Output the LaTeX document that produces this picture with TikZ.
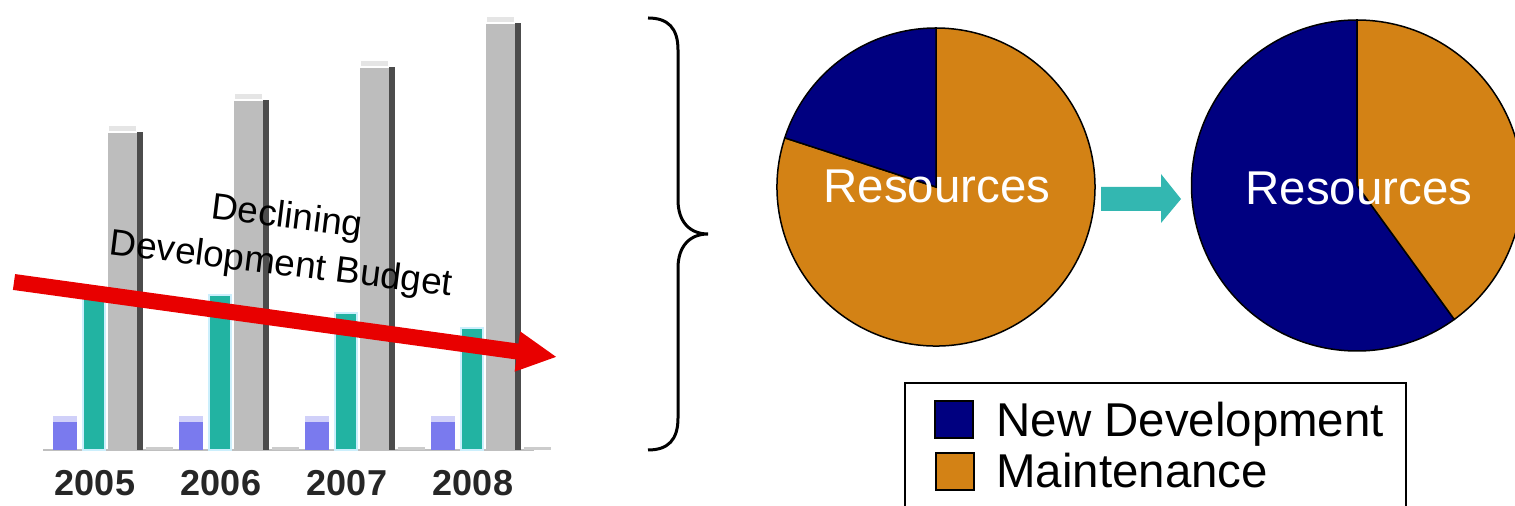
\documentclass[tikz,border=0pt]{standalone}
\usepackage{fontspec}
\setmainfont{Liberation Sans}
\usetikzlibrary{arrows.meta}
\definecolor{newdev}{HTML}{000080}
\definecolor{maint}{HTML}{D38215}
\definecolor{barblue}{HTML}{7A7AEE}
\definecolor{barteal}{HTML}{22B3A2}
\definecolor{bargray}{HTML}{BDBDBD}
\definecolor{shiftteal}{HTML}{33B7B1}
\definecolor{trendred}{HTML}{E80000}
\tikzset{
  pieline/.style={draw=black,line width=0.3mm},
  bigtext/.style={font=\fontsize{27}{30}\selectfont},
  yeartext/.style={font=\fontsize{20.5}{22}\selectfont\bfseries,text=black!85},
}
\begin{document}
\begin{tikzpicture}[x=0.2mm,y=0.2mm]
\useasboundingbox (0,0) rectangle (1515,506);
\clip (0,0) rectangle (1515,506);

\draw[black!25,line width=0.3mm] (43,56) -- (534,56);
\foreach \x/\yr/\tl/\gr in {53/2005/213/374,179/2006/211/406,305/2007/193/439,431/2008/178/483}{
  \fill[barblue] (\x,56) rectangle (\x+24,84);
  \fill[barblue!35] (\x,84) rectangle (\x+24,90);
  \filldraw[fill=barteal,draw=cyan!20,line width=0.4mm] (\x+30,56) rectangle (\x+52,\tl);
  \fill[bargray] (\x+55,56) rectangle (\x+84,\gr);
  \filldraw[fill=bargray!40,draw=white,line width=0.3mm] (\x+55,\gr) rectangle (\x+84,\gr+7);
  \fill[black!70] (\x+84,56) rectangle (\x+90,\gr);
  \fill[black!20] (\x+93,56) rectangle (\x+120,59);
  \node[yeartext] (y\yr) at (\x+42,23) {\yr};
}

\coordinate (trendA) at (14,224);
\coordinate (trendB) at (557,149);
\draw[trendred,line width=3.2mm,-{Triangle[length=8mm,width=7.5mm]}] (trendA) -- (trendB);
\node[font=\fontsize{21}{27}\selectfont,align=center,rotate=-7] (trendtxt) at (284,264) {Declining\\Development Budget};

\draw[line width=0.6mm] (648,488) .. controls (668,488) and (678,478) .. (678,456) -- (678,306)
  .. controls (678,284) and (690,272) .. (708,272) .. controls (690,272) and (678,260) .. (678,238)
  -- (678,88) .. controls (678,66) and (668,56) .. (648,56);

\coordinate (pieA) at (936,319);
\coordinate (pieB) at (1357,320.5);
\filldraw[pieline,fill=maint] (pieA) -- ++(162:31.8mm) arc[start angle=162,end angle=450,radius=31.8mm] -- cycle;
\filldraw[pieline,fill=newdev] (pieA) -- ++(90:31.8mm) arc[start angle=90,end angle=162,radius=31.8mm] -- cycle;
\filldraw[pieline,fill=newdev] (pieB) -- ++(90:33.1mm) arc[start angle=90,end angle=306,radius=33.1mm] -- cycle;
\filldraw[pieline,fill=maint] (pieB) -- ++(306:33.1mm) arc[start angle=306,end angle=450,radius=33.1mm] -- cycle;
\node[bigtext,text=white,anchor=base] (resA) at (937,303) {Resources};
\node[bigtext,text=white,anchor=base] (resB) at (1359,301) {Resources};

\fill[shiftteal] (1101,295) -- (1161,295) -- (1161,283) -- (1181,307) -- (1161,332) -- (1161,319) -- (1101,319) -- cycle;

\draw[line width=0.4mm] (905,-10) rectangle (1406,123);
\filldraw[fill=newdev,line width=0.5mm] (935,68) rectangle (973,105);
\filldraw[fill=maint,line width=0.5mm] (936,16) rectangle (974,53);
\node[bigtext,anchor=base west,inner sep=0pt] (legnd) at (996,69) {New Development};
\node[bigtext,anchor=base west,inner sep=0pt] (legmt) at (996,18) {Maintenance};
\end{tikzpicture}
\end{document}
